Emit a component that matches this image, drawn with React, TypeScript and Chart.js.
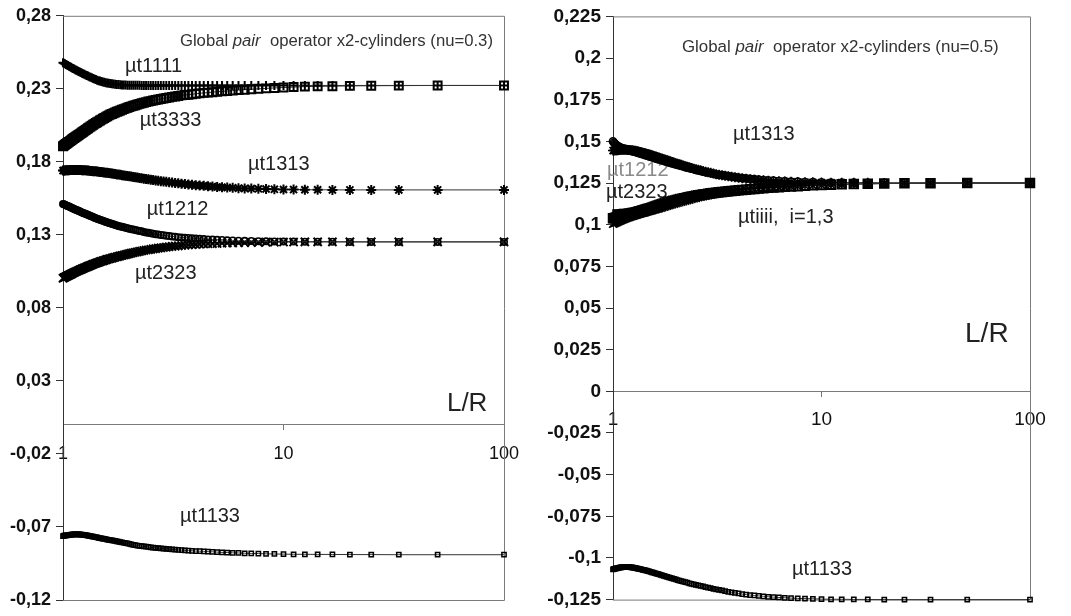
import React, { useEffect, useRef } from 'react';
import { Chart, registerables } from 'chart.js';

Chart.register(...registerables);
Chart.defaults.font.family = "'Liberation Sans', Arial, sans-serif";

// L/R values (x axis)
const lrValues = [
  1, 1.0101, 1.0204, 1.0309, 1.0417, 1.0526, 1.0638, 1.0753, 1.087, 1.0989,
  1.1111, 1.1236, 1.1364, 1.1494, 1.1628, 1.1765, 1.1905, 1.2048, 1.2195, 1.2346,
  1.25, 1.2658, 1.2821, 1.2987, 1.3158, 1.3333, 1.3514, 1.3699, 1.3889, 1.4085,
  1.4286, 1.4493, 1.4706, 1.4925, 1.5152, 1.5385, 1.5625, 1.5873, 1.6129, 1.6393,
  1.6667, 1.6949, 1.7241, 1.7544, 1.7857, 1.8182, 1.8519, 1.8868, 1.9231, 1.9608,
  2, 2.0408, 2.0833, 2.1277, 2.1739, 2.2222, 2.2727, 2.3256, 2.381, 2.439,
  2.5, 2.5641, 2.6316, 2.7027, 2.7778, 2.8571, 2.9412, 3.0303, 3.125, 3.2258,
  3.3333, 3.4483, 3.5714, 3.7037, 3.8462, 4, 4.1667, 4.3478, 4.5455, 4.7619,
  5, 5.2632, 5.5556, 5.8824, 6.25, 6.6667, 7.1429, 7.6923, 8.3333, 9.0909,
  10, 11.1111, 12.5, 14.2857, 16.6667, 20, 25, 33.3333, 50, 100,
];

// ---- Left panel (nu = 0.3) ----
const leftMt1111 = [
  0.2479, 0.2475, 0.2471, 0.2467, 0.2463, 0.2459, 0.2455, 0.2451, 0.2447, 0.2443,
  0.2439, 0.2435, 0.2431, 0.2427, 0.2423, 0.2419, 0.2415, 0.2411, 0.2407, 0.2403,
  0.2399, 0.2395, 0.2391, 0.2387, 0.2383, 0.2379, 0.2375, 0.2371, 0.2367, 0.2363,
  0.2359, 0.2356, 0.2353, 0.235, 0.2347, 0.2345, 0.2342, 0.234, 0.2338, 0.2336,
  0.2334, 0.2333, 0.2331, 0.233, 0.2329, 0.2328, 0.2327, 0.2326, 0.2326, 0.2325,
  0.2325, 0.2325, 0.2324, 0.2324, 0.2324, 0.2324, 0.2323, 0.2323, 0.2323, 0.2323,
  0.2323, 0.2323, 0.2323, 0.2323, 0.2323, 0.2323, 0.2323, 0.2323, 0.2323, 0.2323,
  0.2323, 0.2323, 0.2323, 0.2323, 0.2323, 0.2323, 0.2323, 0.2323, 0.2323, 0.2323,
  0.2323, 0.2323, 0.2323, 0.2323, 0.2323, 0.2323, 0.2323, 0.2323, 0.2323, 0.2323,
  0.2323, 0.2323, 0.2323, 0.2323, 0.2323, 0.2323, 0.2323, 0.2323, 0.2323, 0.2323,
];
const leftMt3333 = [
  0.1907, 0.1912, 0.1917, 0.1922, 0.1927, 0.1932, 0.1937, 0.1942, 0.1947, 0.1953,
  0.1958, 0.1963, 0.1968, 0.1974, 0.1979, 0.1984, 0.199, 0.1995, 0.2001, 0.2006,
  0.2012, 0.2018, 0.2024, 0.203, 0.2036, 0.2042, 0.2048, 0.2054, 0.206, 0.2066,
  0.2071, 0.2077, 0.2083, 0.2089, 0.2095, 0.21, 0.2106, 0.2112, 0.2118, 0.2124,
  0.2128, 0.2133, 0.2138, 0.2143, 0.2147, 0.2152, 0.2157, 0.2161, 0.2166, 0.2171,
  0.2176, 0.218, 0.2184, 0.2188, 0.2193, 0.2197, 0.2201, 0.2205, 0.2209, 0.2213,
  0.2216, 0.222, 0.2224, 0.2227, 0.223, 0.2234, 0.2237, 0.2241, 0.2245, 0.2248,
  0.2251, 0.2255, 0.2258, 0.226, 0.2263, 0.2266, 0.2269, 0.2272, 0.2274, 0.2277,
  0.228, 0.2283, 0.2285, 0.2288, 0.2291, 0.2294, 0.2297, 0.23, 0.2303, 0.2306,
  0.2309, 0.2312, 0.2315, 0.2317, 0.2318, 0.232, 0.2321, 0.2322, 0.2323, 0.2323,
];
const leftMt1313 = [
  0.174, 0.1741, 0.1741, 0.1742, 0.1742, 0.1743, 0.1743, 0.1744, 0.1744, 0.1744,
  0.1745, 0.1745, 0.1745, 0.1745, 0.1745, 0.1745, 0.1744, 0.1744, 0.1743, 0.1743,
  0.1742, 0.1742, 0.1741, 0.174, 0.1739, 0.1738, 0.1737, 0.1736, 0.1735, 0.1735,
  0.1734, 0.1733, 0.1731, 0.173, 0.1728, 0.1727, 0.1726, 0.1725, 0.1723, 0.1722,
  0.172, 0.1718, 0.1716, 0.1714, 0.1713, 0.1711, 0.1709, 0.1707, 0.1705, 0.1703,
  0.1701, 0.1699, 0.1696, 0.1694, 0.1692, 0.169, 0.1688, 0.1685, 0.1683, 0.1681,
  0.1678, 0.1676, 0.1673, 0.1671, 0.1668, 0.1666, 0.1663, 0.1661, 0.1658, 0.1655,
  0.1653, 0.165, 0.1648, 0.1645, 0.1643, 0.164, 0.1638, 0.1636, 0.1633, 0.1631,
  0.1628, 0.1626, 0.1624, 0.1622, 0.162, 0.1618, 0.1617, 0.1615, 0.1614, 0.1612,
  0.1611, 0.161, 0.1609, 0.1609, 0.1608, 0.1608, 0.1608, 0.1608, 0.1608, 0.1608,
];
const leftMt1212 = [
  0.1512, 0.1509, 0.1506, 0.1503, 0.15, 0.1497, 0.1494, 0.1491, 0.1488, 0.1484,
  0.1481, 0.1478, 0.1474, 0.1471, 0.1468, 0.1464, 0.1461, 0.1457, 0.1454, 0.145,
  0.1447, 0.1444, 0.144, 0.1437, 0.1433, 0.1429, 0.1426, 0.1422, 0.1418, 0.1414,
  0.141, 0.1407, 0.1403, 0.14, 0.1396, 0.1393, 0.1389, 0.1386, 0.1382, 0.1379,
  0.1375, 0.1372, 0.1368, 0.1365, 0.1361, 0.1358, 0.1355, 0.1352, 0.1348, 0.1345,
  0.1342, 0.1339, 0.1336, 0.1333, 0.133, 0.1327, 0.1324, 0.132, 0.1317, 0.1314,
  0.1311, 0.1308, 0.1305, 0.1302, 0.1299, 0.1297, 0.1294, 0.1292, 0.1289, 0.1287,
  0.1284, 0.1282, 0.1281, 0.1279, 0.1277, 0.1275, 0.1273, 0.1271, 0.1269, 0.1268,
  0.1266, 0.1265, 0.1263, 0.1262, 0.126, 0.1259, 0.1258, 0.1257, 0.1256, 0.1255,
  0.1254, 0.1254, 0.1253, 0.1253, 0.1253, 0.1252, 0.1252, 0.1252, 0.1252, 0.1252,
];
const leftMt2323 = [
  0.1003, 0.1007, 0.101, 0.1014, 0.1017, 0.1021, 0.1024, 0.1028, 0.1031, 0.1035,
  0.1039, 0.1042, 0.1046, 0.1049, 0.1053, 0.1056, 0.106, 0.1063, 0.1067, 0.107,
  0.1074, 0.1077, 0.1081, 0.1084, 0.1088, 0.1091, 0.1095, 0.1099, 0.1102, 0.1106,
  0.1109, 0.1112, 0.1116, 0.1119, 0.1122, 0.1125, 0.1129, 0.1132, 0.1135, 0.1138,
  0.1141, 0.1144, 0.1147, 0.115, 0.1153, 0.1156, 0.1159, 0.1162, 0.1165, 0.1168,
  0.1172, 0.1175, 0.1178, 0.1181, 0.1184, 0.1187, 0.119, 0.1193, 0.1196, 0.1198,
  0.1201, 0.1204, 0.1206, 0.1209, 0.1211, 0.1214, 0.1216, 0.1219, 0.1221, 0.1223,
  0.1225, 0.1227, 0.1229, 0.1231, 0.1233, 0.1235, 0.1236, 0.1238, 0.1239, 0.124,
  0.1241, 0.1243, 0.1244, 0.1245, 0.1246, 0.1247, 0.1248, 0.1249, 0.125, 0.125,
  0.1251, 0.1251, 0.1252, 0.1252, 0.1252, 0.1252, 0.1252, 0.1252, 0.1252, 0.1252,
];
const leftMt1133 = [
  -0.0762, -0.076, -0.0759, -0.0758, -0.0757, -0.0756, -0.0755, -0.0754, -0.0753, -0.0752,
  -0.0751, -0.0751, -0.075, -0.075, -0.075, -0.075, -0.0751, -0.0752, -0.0753, -0.0754,
  -0.0755, -0.0756, -0.0758, -0.0759, -0.0761, -0.0762, -0.0764, -0.0766, -0.0768, -0.077,
  -0.0772, -0.0774, -0.0776, -0.0778, -0.078, -0.0782, -0.0784, -0.0786, -0.0788, -0.079,
  -0.0792, -0.0794, -0.0796, -0.0798, -0.0801, -0.0803, -0.0806, -0.0808, -0.0811, -0.0813,
  -0.0816, -0.0819, -0.0822, -0.0824, -0.0827, -0.0829, -0.0831, -0.0833, -0.0835, -0.0837,
  -0.084, -0.0841, -0.0843, -0.0845, -0.0846, -0.0848, -0.085, -0.0852, -0.0853, -0.0855,
  -0.0857, -0.0859, -0.086, -0.0862, -0.0863, -0.0865, -0.0866, -0.0867, -0.0869, -0.087,
  -0.0872, -0.0874, -0.0875, -0.0877, -0.0878, -0.088, -0.0881, -0.0882, -0.0884, -0.0885,
  -0.0886, -0.0887, -0.0887, -0.0888, -0.0888, -0.0889, -0.0889, -0.089, -0.089, -0.089,
];

// ---- Right panel (nu = 0.5) ----
const rightMt1111 = [
  0.1065, 0.1065, 0.1066, 0.1066, 0.1066, 0.1067, 0.1067, 0.1068, 0.1068, 0.1069,
  0.1069, 0.107, 0.1071, 0.1072, 0.1073, 0.1074, 0.1075, 0.1076, 0.1078, 0.1079,
  0.1081, 0.1083, 0.1085, 0.1087, 0.1089, 0.1091, 0.1094, 0.1096, 0.1098, 0.11,
  0.1102, 0.1105, 0.1108, 0.1111, 0.1114, 0.1117, 0.112, 0.1123, 0.1126, 0.1129,
  0.1131, 0.1134, 0.1137, 0.114, 0.1143, 0.1145, 0.1148, 0.115, 0.1153, 0.1155,
  0.1158, 0.116, 0.1163, 0.1165, 0.1167, 0.117, 0.1172, 0.1174, 0.1176, 0.1178,
  0.1181, 0.1183, 0.1185, 0.1187, 0.1189, 0.1191, 0.1193, 0.1195, 0.1197, 0.1199,
  0.1201, 0.1203, 0.1205, 0.1207, 0.1209, 0.1211, 0.1213, 0.1215, 0.1217, 0.1219,
  0.122, 0.1222, 0.1224, 0.1226, 0.1228, 0.123, 0.1232, 0.1234, 0.1236, 0.1238,
  0.124, 0.1242, 0.1243, 0.1245, 0.1246, 0.1248, 0.1249, 0.125, 0.125, 0.125,
];
const rightMt3333 = [
  0.1038, 0.1039, 0.104, 0.1042, 0.1043, 0.1044, 0.1045, 0.1046, 0.1047, 0.1049,
  0.105, 0.1051, 0.1053, 0.1054, 0.1056, 0.1057, 0.1059, 0.106, 0.1062, 0.1064,
  0.1066, 0.1068, 0.107, 0.1072, 0.1074, 0.1076, 0.1078, 0.108, 0.1082, 0.1084,
  0.1087, 0.1089, 0.1092, 0.1094, 0.1097, 0.1099, 0.1102, 0.1105, 0.1107, 0.111,
  0.1113, 0.1116, 0.1119, 0.1122, 0.1125, 0.1128, 0.1131, 0.1134, 0.1137, 0.114,
  0.1143, 0.1146, 0.1149, 0.1152, 0.1155, 0.1158, 0.1161, 0.1164, 0.1167, 0.117,
  0.1173, 0.1176, 0.1178, 0.1181, 0.1183, 0.1186, 0.1188, 0.119, 0.1192, 0.1194,
  0.1196, 0.1198, 0.12, 0.1202, 0.1204, 0.1206, 0.1208, 0.121, 0.1212, 0.1214,
  0.1217, 0.1219, 0.1221, 0.1223, 0.1225, 0.1227, 0.1229, 0.1231, 0.1233, 0.1236,
  0.1238, 0.124, 0.1242, 0.1244, 0.1245, 0.1247, 0.1248, 0.1249, 0.125, 0.125,
];
const rightMt1313 = [
  0.1445, 0.1445, 0.1446, 0.1446, 0.1447, 0.1447, 0.1448, 0.1448, 0.1449, 0.1449,
  0.1449, 0.1449, 0.1449, 0.1449, 0.1449, 0.1448, 0.1448, 0.1448, 0.1447, 0.1446,
  0.1445, 0.1444, 0.1443, 0.1441, 0.144, 0.1438, 0.1436, 0.1434, 0.1432, 0.143,
  0.1428, 0.1426, 0.1424, 0.1421, 0.1419, 0.1416, 0.1414, 0.1411, 0.1408, 0.1405,
  0.1402, 0.1399, 0.1396, 0.1393, 0.139, 0.1386, 0.1383, 0.138, 0.1376, 0.1373,
  0.1369, 0.1366, 0.1362, 0.1359, 0.1355, 0.1351, 0.1347, 0.1344, 0.134, 0.1336,
  0.1333, 0.1329, 0.1326, 0.1322, 0.1318, 0.1314, 0.1311, 0.1307, 0.1303, 0.13,
  0.1297, 0.1293, 0.129, 0.1287, 0.1284, 0.1281, 0.1278, 0.1275, 0.1273, 0.127,
  0.1268, 0.1266, 0.1264, 0.1262, 0.126, 0.1259, 0.1257, 0.1256, 0.1255, 0.1254,
  0.1253, 0.1252, 0.1252, 0.1251, 0.1251, 0.125, 0.125, 0.125, 0.125, 0.125,
];
const rightMt1212 = [
  0.15, 0.1493, 0.1487, 0.1481, 0.1476, 0.1472, 0.1468, 0.1465, 0.1462, 0.146,
  0.1458, 0.1456, 0.1454, 0.1452, 0.145, 0.1449, 0.1447, 0.1445, 0.1444, 0.1442,
  0.1441, 0.1439, 0.1437, 0.1434, 0.1432, 0.143, 0.1428, 0.1425, 0.1423, 0.142,
  0.1418, 0.1416, 0.1413, 0.141, 0.1408, 0.1405, 0.1402, 0.14, 0.1397, 0.1394,
  0.1392, 0.1389, 0.1386, 0.1383, 0.138, 0.1377, 0.1374, 0.1371, 0.1368, 0.1365,
  0.1362, 0.1359, 0.1356, 0.1353, 0.135, 0.1346, 0.1343, 0.134, 0.1336, 0.1333,
  0.1329, 0.1326, 0.1323, 0.1319, 0.1316, 0.1313, 0.1309, 0.1306, 0.1302, 0.1299,
  0.1297, 0.1294, 0.1291, 0.1288, 0.1285, 0.1283, 0.128, 0.1278, 0.1275, 0.1273,
  0.127, 0.1268, 0.1266, 0.1264, 0.1262, 0.1261, 0.1259, 0.1258, 0.1256, 0.1255,
  0.1254, 0.1253, 0.1252, 0.1252, 0.1251, 0.1251, 0.125, 0.125, 0.125, 0.125,
];
const rightMt2323 = [
  0.1005, 0.1008, 0.101, 0.1013, 0.1015, 0.1018, 0.102, 0.1023, 0.1025, 0.1028,
  0.1031, 0.1033, 0.1036, 0.1038, 0.104, 0.1043, 0.1045, 0.1047, 0.105, 0.1052,
  0.1054, 0.1056, 0.1058, 0.106, 0.1063, 0.1065, 0.1067, 0.1069, 0.1071, 0.1073,
  0.1075, 0.1077, 0.108, 0.1082, 0.1084, 0.1087, 0.1089, 0.1091, 0.1094, 0.1096,
  0.1099, 0.1101, 0.1104, 0.1107, 0.111, 0.1113, 0.1116, 0.1119, 0.1122, 0.1125,
  0.1128, 0.1131, 0.1134, 0.1137, 0.114, 0.1144, 0.1147, 0.115, 0.1154, 0.1157,
  0.116, 0.1164, 0.1167, 0.117, 0.1173, 0.1176, 0.1179, 0.1182, 0.1185, 0.1188,
  0.119, 0.1193, 0.1195, 0.1198, 0.12, 0.1203, 0.1205, 0.1207, 0.121, 0.1212,
  0.1215, 0.1217, 0.1219, 0.1222, 0.1224, 0.1226, 0.1228, 0.123, 0.1233, 0.1235,
  0.1237, 0.1239, 0.1241, 0.1243, 0.1245, 0.1247, 0.1248, 0.1249, 0.125, 0.125,
];
const rightMt1133 = [
  -0.1068, -0.1066, -0.1065, -0.1063, -0.1062, -0.1061, -0.1059, -0.1058, -0.1057, -0.1056,
  -0.1055, -0.1055, -0.1054, -0.1054, -0.1054, -0.1054, -0.1055, -0.1055, -0.1056, -0.1057,
  -0.1058, -0.1059, -0.106, -0.1062, -0.1064, -0.1065, -0.1067, -0.1069, -0.1071, -0.1072,
  -0.1074, -0.1076, -0.1079, -0.1081, -0.1084, -0.1086, -0.1088, -0.1091, -0.1094, -0.1096,
  -0.1099, -0.1102, -0.1105, -0.1108, -0.1111, -0.1114, -0.1117, -0.112, -0.1123, -0.1126,
  -0.1129, -0.1133, -0.1136, -0.1139, -0.1142, -0.1145, -0.1148, -0.1152, -0.1155, -0.1159,
  -0.1162, -0.1165, -0.1168, -0.1171, -0.1175, -0.1178, -0.1181, -0.1185, -0.1188, -0.1192,
  -0.1195, -0.1199, -0.1203, -0.1206, -0.121, -0.1213, -0.1217, -0.122, -0.1223, -0.1225,
  -0.1228, -0.123, -0.1233, -0.1235, -0.1237, -0.1239, -0.1241, -0.1243, -0.1244, -0.1245,
  -0.1247, -0.1248, -0.1248, -0.1249, -0.1249, -0.125, -0.125, -0.125, -0.125, -0.125,
];

// ---- Axis ticks ----
const xTicks = [1, 10, 100];
const leftYTicks = [0.28, 0.23, 0.18, 0.13, 0.08, 0.03, -0.02, -0.07, -0.12];
const leftYTickLabels = ['0,28', '0,23', '0,18', '0,13', '0,08', '0,03', '-0,02', '-0,07', '-0,12'];
const rightYTicks = [0.225, 0.2, 0.175, 0.15, 0.125, 0.1, 0.075, 0.05, 0.025, 0, -0.025, -0.05, -0.075, -0.1, -0.125];
const rightYTickLabels = ['0,225', '0,2', '0,175', '0,15', '0,125', '0,1', '0,075', '0,05', '0,025', '0', '-0,025', '-0,05', '-0,075', '-0,1', '-0,125'];

type Series = { name: string; data: number[]; style: string; radius: number; stroke: number };
type Seg = { t: string; italic?: boolean };
type Note = { parts: Seg[]; x: number; y: number; size: number; color: string };

const leftSeries: Series[] = [
  { name: 'µt1111', data: leftMt1111, style: 'cross', radius: 4.5, stroke: 2 },
  { name: 'µt3333', data: leftMt3333, style: 'rect', radius: 5.6, stroke: 2 },
  { name: 'µt1313', data: leftMt1313, style: 'star', radius: 5, stroke: 2 },
  { name: 'µt1212', data: leftMt1212, style: 'circle', radius: 3.2, stroke: 1.6 },
  { name: 'µt2323', data: leftMt2323, style: 'crossRot', radius: 5.8, stroke: 2 },
  { name: 'µt1133', data: leftMt1133, style: 'rect', radius: 3, stroke: 1.5 },
];
const rightSeries: Series[] = [
  { name: 'µt1111', data: rightMt1111, style: 'cross', radius: 4.5, stroke: 1.6 },
  { name: 'µt3333', data: rightMt3333, style: 'rect', radius: 6, stroke: 2 },
  { name: 'µt1313', data: rightMt1313, style: 'star', radius: 5, stroke: 1.6 },
  { name: 'µt1212', data: rightMt1212, style: 'circle', radius: 3.6, stroke: 1.6 },
  { name: 'µt2323', data: rightMt2323, style: 'crossRot', radius: 5.5, stroke: 1.6 },
  { name: 'µt1133', data: rightMt1133, style: 'rect', radius: 3, stroke: 1.5 },
];

const DARK = '#222';
const leftNotes: Note[] = [
  { parts: [{ t: 'Global ' }, { t: 'pair', italic: true }, { t: '  operator x2-cylinders (nu=0.3)' }], x: 3.39, y: 0.2627, size: 16.7, color: '#333' },
  { parts: [{ t: 'µt1111' }], x: 1.91, y: 0.2455, size: 20, color: DARK },
  { parts: [{ t: 'µt3333' }], x: 2.23, y: 0.2085, size: 20, color: DARK },
  { parts: [{ t: 'µt1313' }], x: 6.9, y: 0.1783, size: 20, color: DARK },
  { parts: [{ t: 'µt1212' }], x: 2.4, y: 0.1472, size: 20, color: DARK },
  { parts: [{ t: 'µt2323' }], x: 2.12, y: 0.1036, size: 20, color: DARK },
  { parts: [{ t: 'µt1133' }], x: 3.39, y: -0.0628, size: 20, color: DARK },
  { parts: [{ t: 'L/R' }], x: 55.1, y: 0.0142, size: 26, color: DARK },
];
const rightNotes: Note[] = [
  { parts: [{ t: 'Global ' }, { t: 'pair', italic: true }, { t: '  operator x2-cylinders (nu=0.5)' }], x: 2.14, y: 0.2062, size: 16.9, color: '#333' },
  { parts: [{ t: 'µt1313' }], x: 3.76, y: 0.1542, size: 20, color: DARK },
  { parts: [{ t: 'µt1212' }], x: 0.936, y: 0.1323, size: 20, color: '#8a8a8a' },
  { parts: [{ t: 'µt2323' }], x: 0.926, y: 0.1194, size: 20, color: DARK },
  { parts: [{ t: 'µtiiii,  i=1,3' }], x: 3.98, y: 0.1046, size: 20, color: DARK },
  { parts: [{ t: 'µt1133' }], x: 7.22, y: -0.107, size: 20, color: DARK },
  { parts: [{ t: 'L/R' }], x: 48.8, y: 0.0342, size: 28, color: DARK },
];

const FONT = "'Liberation Sans', Arial, sans-serif";

type PanelProps = {
  left: number;
  width: number;
  height: number;
  series: Series[];
  yTicks: number[];
  yTickLabels: string[];
  notes: Note[];
  axisWidth: number;
  padRight: number;
  yFont: number;
  xFont: number;
  xPad: number;
};

function Panel(p: PanelProps) {
  const ref = useRef<HTMLCanvasElement>(null);
  useEffect(() => {
    const canvas = ref.current;
    if (!canvas) return;
    const yMin = Math.min(...p.yTicks);
    const yMax = Math.max(...p.yTicks);

    const boxPlugin = {
      id: 'plotBox',
      beforeDatasetsDraw(chart: any) {
        const { ctx, chartArea: a } = chart;
        ctx.save();
        ctx.strokeStyle = '#7a7a7a';
        ctx.lineWidth = 1;
        ctx.beginPath();
        ctx.moveTo(a.left, a.top + 0.5);
        ctx.lineTo(a.right + 0.5, a.top + 0.5);
        ctx.lineTo(a.right + 0.5, a.bottom + 0.5);
        ctx.lineTo(a.left, a.bottom + 0.5);
        ctx.stroke();
        ctx.restore();
      },
    };

    const notesPlugin = {
      id: 'notes',
      beforeDatasetsDraw(chart: any) {
        const { ctx } = chart;
        const xs = chart.scales.x;
        const ys = chart.scales.y;
        ctx.save();
        ctx.textBaseline = 'middle';
        ctx.textAlign = 'left';
        for (const n of p.notes) {
          let px = xs.getPixelForValue(n.x);
          const py = ys.getPixelForValue(n.y);
          ctx.fillStyle = n.color;
          for (const s of n.parts) {
            ctx.font = `${s.italic ? 'italic ' : ''}${n.size}px ${FONT}`;
            ctx.fillText(s.t, px, py);
            px += ctx.measureText(s.t).width;
          }
        }
        ctx.restore();
      },
    };

    const chart = new Chart(canvas, {
      type: 'line',
      data: {
        datasets: p.series.map((s) => ({
          label: s.name,
          data: lrValues.map((x, i) => ({ x, y: s.data[i] })),
          pointStyle: s.style as any,
          pointRadius: s.radius,
          pointBorderWidth: s.stroke,
          pointBorderColor: '#000',
          pointBackgroundColor: 'rgba(0,0,0,0)',
          borderColor: '#333',
          borderWidth: 1,
          fill: false,
          tension: 0,
          clip: false as any,
        })),
      },
      options: {
        animation: false,
        responsive: false,
        maintainAspectRatio: false,
        events: [],
        layout: { padding: { left: 0, right: p.padRight, top: 10, bottom: 16 } },
        plugins: { legend: { display: false }, tooltip: { enabled: false } },
        scales: {
          x: {
            type: 'logarithmic',
            min: 1,
            max: 100,
            position: { y: 0 } as any,
            afterBuildTicks: (scale: any) => {
              scale.ticks = xTicks.map((v) => ({ value: v }));
            },
            ticks: {
              autoSkip: false,
              maxRotation: 0,
              color: '#111',
              font: { size: p.xFont, family: FONT },
              padding: p.xPad,
              callback: (v: any) => String(v),
            },
            grid: { drawOnChartArea: false, tickLength: 5, color: '#777' },
            border: { color: '#7a7a7a' },
          },
          y: {
            type: 'linear',
            min: yMin,
            max: yMax,
            afterBuildTicks: (scale: any) => {
              scale.ticks = [...p.yTicks].sort((a, b) => a - b).map((v) => ({ value: v }));
            },
            afterFit: (scale: any) => {
              scale.width = p.axisWidth;
            },
            ticks: {
              autoSkip: false,
              color: '#111',
              font: { size: p.yFont, weight: 'bold', family: FONT },
              padding: 5,
              callback: (v: any) => {
                const idx = p.yTicks.findIndex((t) => Math.abs(t - v) < 1e-9);
                return idx >= 0 ? p.yTickLabels[idx] : '';
              },
            },
            grid: { drawOnChartArea: false, tickLength: 7, color: '#333' },
            border: { color: '#333' },
          },
        },
      } as any,
      plugins: [boxPlugin, notesPlugin],
    });
    return () => chart.destroy();
  }, []);
  return (
    <canvas
      ref={ref}
      width={p.width}
      height={p.height}
      style={{ position: 'absolute', left: p.left, top: 0, width: p.width, height: p.height }}
    />
  );
}

export default function App() {
  return (
    <div style={{ position: 'fixed', left: 0, top: 0, width: 1071, height: 616, background: '#fff' }}>
      <Panel
        left={0}
        width={535}
        height={616}
        series={leftSeries}
        yTicks={leftYTicks}
        yTickLabels={leftYTickLabels}
        notes={leftNotes}
        axisWidth={63}
        padRight={31}
        yFont={18}
        xFont={18}
        xPad={13}
      />
      <Panel
        left={535}
        width={536}
        height={616}
        series={rightSeries}
        yTicks={rightYTicks}
        yTickLabels={rightYTickLabels}
        notes={rightNotes}
        axisWidth={78}
        padRight={41}
        yFont={19}
        xFont={19}
        xPad={12}
      />
    </div>
  );
}
